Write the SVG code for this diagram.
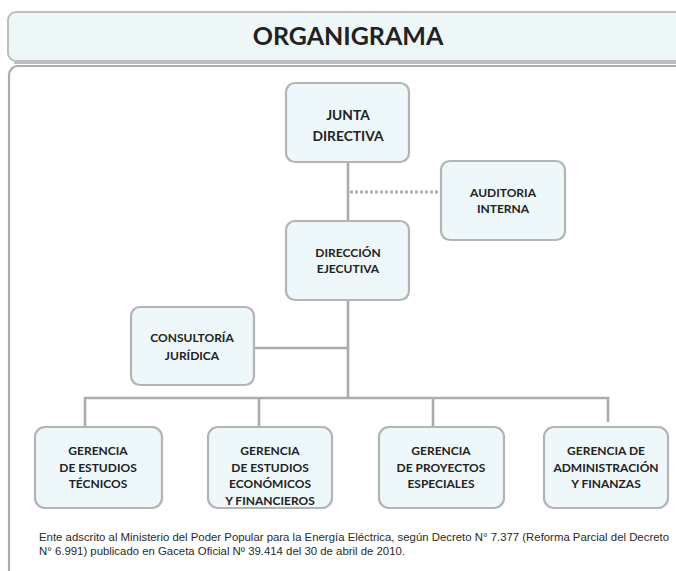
<svg xmlns="http://www.w3.org/2000/svg" width="676" height="571" viewBox="0 0 676 571">
<defs>
<style>
.box{fill:#EEF7FA;stroke:#B4B4B4;stroke-width:2.2}
.t{font-family:Lato,"Open Sans","Liberation Sans",sans-serif;font-weight:bold;font-size:12px;fill:#222;text-anchor:middle}
.big{font-size:13.8px}
.ln{fill:none;stroke:#ABABAB;stroke-width:2.6}
.dash{fill:none;stroke:#B0B0B0;stroke-width:3;stroke-dasharray:3 2}
.foot{font-family:"Liberation Sans",Arial,sans-serif;font-size:10.5px;fill:#2a2a2a}
</style>
</defs>
<rect width="676" height="571" fill="#ffffff"/>
<g id="title">
<rect x="8" y="12" width="700" height="49" rx="8" fill="#EEF7F8" stroke="#BDBDBD" stroke-width="2"/>
<line x1="14" y1="63" x2="676" y2="63" stroke="#A8A8A8" stroke-width="1.5"/>
<text x="348" y="45" class="t" style="font-size:25px;fill:#222">ORGANIGRAMA</text>
</g>
<g id="frame">
<rect x="9" y="66" width="700" height="560" rx="9" fill="none" stroke="#ABABAB" stroke-width="2.2"/>
</g>
<g id="connectors">
<line class="ln" x1="348" y1="162" x2="348" y2="221"/>
<line class="dash" x1="350" y1="192" x2="441" y2="192"/>
<line class="ln" x1="348" y1="300" x2="348" y2="398"/>
<line class="ln" x1="254" y1="348" x2="348" y2="348"/>
<polyline class="ln" points="85,427 85,398 608,398 608,422"/>
<line class="ln" x1="259" y1="398" x2="259" y2="427"/>
<line class="ln" x1="433" y1="398" x2="433" y2="427"/>
</g>
<g id="junta">
<rect class="box" x="286" y="83" width="123" height="79" rx="9"/>
<text class="t big" x="348" y="120">JUNTA</text>
<text class="t big" x="348" y="141">DIRECTIVA</text>
</g>
<g id="auditoria">
<rect class="box" x="441" y="161" width="124" height="79" rx="9"/>
<text class="t" x="503" y="197">AUDITORIA</text>
<text class="t" x="503" y="213">INTERNA</text>
</g>
<g id="direccion">
<rect class="box" x="286" y="221" width="123" height="79" rx="9"/>
<text class="t" x="348" y="257">DIRECCIÓN</text>
<text class="t" x="348" y="273">EJECUTIVA</text>
</g>
<g id="consultoria">
<rect class="box" x="131" y="307" width="123" height="78" rx="9"/>
<text class="t" x="192" y="342">CONSULTORÍA</text>
<text class="t" x="192" y="360">JURÍDICA</text>
</g>
<g id="g1">
<rect class="box" x="35" y="427" width="127" height="81" rx="10"/>
<text class="t" x="98" y="455">GERENCIA</text>
<text class="t" x="98" y="472">DE ESTUDIOS</text>
<text class="t" x="98" y="488">TÉCNICOS</text>
</g>
<g id="g2">
<rect class="box" x="208" y="427" width="124" height="81" rx="10"/>
<text class="t" x="270" y="455">GERENCIA</text>
<text class="t" x="270" y="472">DE ESTUDIOS</text>
<text class="t" x="270" y="488">ECONÓMICOS</text>
<text class="t" x="270" y="505">Y FINANCIEROS</text>
</g>
<g id="g3">
<rect class="box" x="379" y="427" width="125" height="81" rx="10"/>
<text class="t" x="441" y="455">GERENCIA</text>
<text class="t" x="441" y="472">DE PROYECTOS</text>
<text class="t" x="441" y="488">ESPECIALES</text>
</g>
<g id="g4">
<rect class="box" x="544" y="427" width="124" height="81" rx="10"/>
<text class="t" x="606" y="455">GERENCIA DE</text>
<text class="t" x="606" y="472">ADMINISTRACIÓN</text>
<text class="t" x="606" y="488">Y FINANZAS</text>
</g>
<g id="footer">
<text class="foot" x="39" y="541" textLength="630" lengthAdjust="spacingAndGlyphs">Ente adscrito al Ministerio del Poder Popular para la Energía Eléctrica, según Decreto N° 7.377 (Reforma Parcial del Decreto</text>
<text class="foot" x="39" y="555" textLength="366" lengthAdjust="spacingAndGlyphs">N° 6.991) publicado en Gaceta Oficial Nº 39.414 del 30 de abril de 2010.</text>
</g>
</svg>
